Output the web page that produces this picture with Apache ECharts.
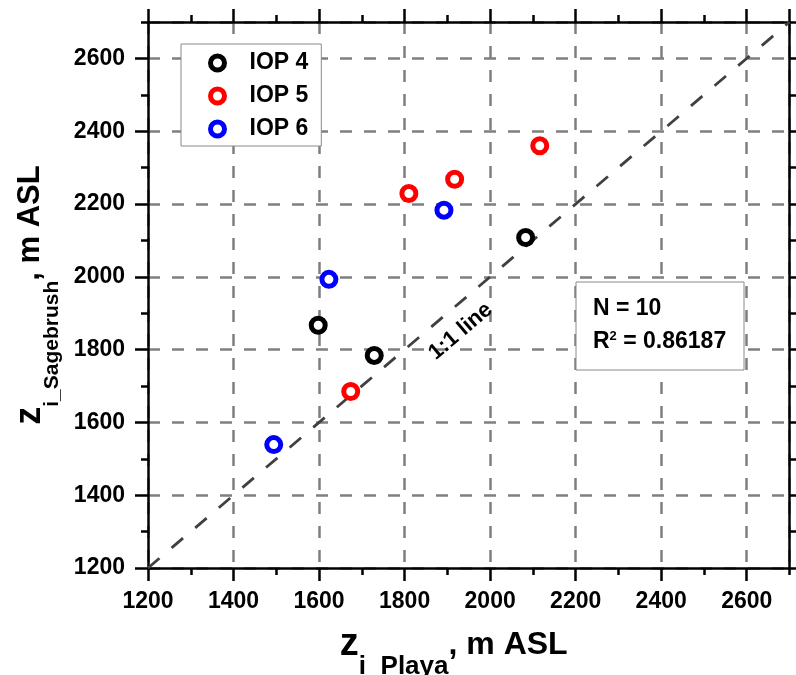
<!DOCTYPE html>
<html>
<head>
<meta charset="utf-8">
<script src="https://cdn.jsdelivr.net/npm/echarts@6/dist/echarts.min.js"></script>
<style>
  html, body { margin: 0; padding: 0; background: #fff; }
  #chart { width: 796px; height: 675px; }
</style>
</head>
<body>
<div id="chart"></div>
<script>
// Mixed-layer height: playa site (x) vs. sagebrush site (y), m ASL
const seriesNames = ['IOP 4', 'IOP 5', 'IOP 6'];
const seriesColors = ['#000000', '#ff0000', '#0000ff'];

const iop4Playa = [1598, 1729, 2083];
const iop4Sage  = [1867, 1784, 2108];
const iop5Playa = [1674, 1810, 1917, 2116];
const iop5Sage  = [1685, 2229, 2268, 2360];
const iop6Playa = [1494, 1623, 1892];
const iop6Sage  = [1539, 1993, 2183];

const axisMin = 1200;
const axisMax = 2700;
const majorStep = 200;
const minorStep = 100;

const oneToOneLine = [1200, 2700];
const oneToOneLabel = '1:1 line';
const oneToOneLabelAt = [1931, 1850];

const sampleCount = 10;
const rSquared = '0.86187';

const FONT = '"Liberation Sans", Arial, Helvetica, sans-serif';

function pairs(xs, ys) { return xs.map((x, i) => [x, ys[i]]); }

const scatterData = [
  pairs(iop4Playa, iop4Sage),
  pairs(iop5Playa, iop5Sage),
  pairs(iop6Playa, iop6Sage)
];

// fixed plot rectangle; axis names may sit outside it
const gridBox = { left: 148, right: 6.5, top: 22, bottom: 107, containLabel: false, outerBoundsMode: 'none' };

const axisLineStyle = { color: '#000', width: 2.5 };
const gridLineStyle = { color: '#7f7f7f', width: 2.5, type: [12, 12] };

function majorAxis(extra) {
  return Object.assign({
    type: 'value',
    gridIndex: 0,
    min: axisMin,
    max: axisMax,
    interval: majorStep,
    axisLine: { show: true, onZero: false, lineStyle: axisLineStyle },
    axisTick: { show: true, inside: false, length: 13, lineStyle: { color: '#000', width: 2.5 } },
    axisLabel: { show: false },
    splitLine: { show: false }
  }, extra);
}

function minorAxis(extra) {
  return Object.assign({
    type: 'value',
    gridIndex: 1,
    min: axisMin,
    max: axisMax,
    interval: minorStep,
    axisLine: { show: false, onZero: false },
    axisTick: { show: true, inside: false, length: 7, lineStyle: { color: '#000', width: 2.5 } },
    axisLabel: { show: false },
    splitLine: { show: false }
  }, extra);
}

const tickLabel = {
  show: true,
  fontFamily: FONT,
  fontSize: 23,
  fontWeight: 'bold',
  color: '#000',
  showMaxLabel: false,
  formatter: v => String(v)
};

const xTitleRich = {
  z:   { fontFamily: FONT, fontWeight: 'bold', fontSize: 38, lineHeight: 40, verticalAlign: 'top', color: '#000' },
  sub: { fontFamily: FONT, fontWeight: 'bold', fontSize: 26, lineHeight: 26, verticalAlign: 'top', color: '#000', padding: [28, 0, 0, 0] },
  m:   { fontFamily: FONT, fontWeight: 'bold', fontSize: 32, lineHeight: 40, verticalAlign: 'top', color: '#000', padding: [3, 0, 0, 0] }
};
const yTitleRich = {
  z:   { fontFamily: FONT, fontWeight: 'bold', fontSize: 36, lineHeight: 40, verticalAlign: 'top', color: '#000' },
  sub: { fontFamily: FONT, fontWeight: 'bold', fontSize: 21, lineHeight: 22, verticalAlign: 'top', color: '#000', padding: [30, 0, 0, 0] },
  m:   { fontFamily: FONT, fontWeight: 'bold', fontSize: 31, lineHeight: 40, verticalAlign: 'top', color: '#000', padding: [3, 0, 0, 0] }
};

const chart = echarts.init(document.getElementById('chart'), null, { renderer: 'canvas' });

const option = {
  animation: false,
  backgroundColor: '#fff',
  grid: [Object.assign({}, gridBox), Object.assign({}, gridBox)],
  xAxis: [
    majorAxis({
      position: 'bottom',
      axisLabel: Object.assign({ margin: 22 }, tickLabel),
      splitLine: { show: true, lineStyle: gridLineStyle },
      name: '{z|z}{sub|i_Playa}{m|, m ASL}',
      nameLocation: 'middle',
      nameGap: 58,
      nameTextStyle: { padding: [0, 30, 0, 0], rich: xTitleRich }
    }),
    majorAxis({ position: 'top' }),
    minorAxis({ position: 'bottom' }),
    minorAxis({ position: 'top' })
  ],
  yAxis: [
    majorAxis({
      position: 'left',
      axisLabel: Object.assign({ margin: 23 }, tickLabel),
      splitLine: { show: true, lineStyle: gridLineStyle },
      name: '{z|z}{sub|i_Sagebrush}{m|, m ASL}',
      nameLocation: 'middle',
      nameGap: 96,
      nameTextStyle: { rich: yTitleRich }
    }),
    majorAxis({ position: 'right' }),
    minorAxis({ position: 'left' }),
    minorAxis({ position: 'right' })
  ],
  legend: {
    data: seriesNames,
    orient: 'vertical',
    left: 181,
    top: 44,
    padding: [7, 13, 5, 27],
    itemWidth: 14,
    itemHeight: 14,
    itemGap: 9,
    backgroundColor: '#fff',
    borderColor: '#8a8a8a',
    borderWidth: 1,
    selectedMode: false,
    itemStyle: { borderWidth: 5, opacity: 1 },
    textStyle: {
      fontFamily: FONT, fontSize: 23, fontWeight: 'bold', color: '#000',
      lineHeight: 24, padding: [0, 0, 0, 20]
    }
  },
  series: [
    {
      type: 'line',
      name: oneToOneLabel,
      xAxisIndex: 0,
      yAxisIndex: 0,
      data: [[oneToOneLine[0], oneToOneLine[0]], [oneToOneLine[1], oneToOneLine[1]]],
      symbol: 'none',
      silent: true,
      z: 3,
      lineStyle: { color: '#404040', width: 2.8, type: [15, 16] }
    }
  ].concat(seriesNames.map((name, i) => ({
    type: 'scatter',
    name: name,
    xAxisIndex: 0,
    yAxisIndex: 0,
    data: scatterData[i],
    symbol: 'circle',
    symbolSize: 14,
    clip: false,
    z: 6,
    itemStyle: { color: '#fff', borderColor: seriesColors[i], borderWidth: 5, opacity: 1 }
  })))
};

chart.setOption(option);

// Rotated label along the 1:1 line, plus the statistics box
const p0 = chart.convertToPixel({ gridIndex: 0 }, [oneToOneLine[0], oneToOneLine[0]]);
const p1 = chart.convertToPixel({ gridIndex: 0 }, [oneToOneLine[1], oneToOneLine[1]]);
const angle = Math.atan2(p0[1] - p1[1], p1[0] - p0[0]);
const labelPos = chart.convertToPixel({ gridIndex: 0 }, oneToOneLabelAt);

chart.setOption({
  graphic: [
    {
      type: 'text',
      x: labelPos[0],
      y: labelPos[1],
      rotation: angle,
      z: 7,
      style: {
        text: oneToOneLabel,
        font: 'bold 22px ' + FONT,
        fill: '#000',
        align: 'center',
        verticalAlign: 'middle'
      }
    },
    {
      type: 'rect',
      x: 576,
      y: 282,
      z: 7,
      shape: { width: 168, height: 88 },
      style: { fill: '#fff', stroke: '#8a8a8a', lineWidth: 1 }
    },
    {
      type: 'text',
      x: 593,
      y: 309,
      z: 8,
      style: {
        text: 'N = ' + sampleCount,
        font: 'bold 23px ' + FONT,
        fill: '#000',
        align: 'left',
        verticalAlign: 'middle'
      }
    },
    {
      type: 'text',
      x: 593,
      y: 342,
      z: 8,
      style: {
        text: '{r|R}{s|2}{r| = ' + rSquared + '}',
        align: 'left',
        verticalAlign: 'middle',
        rich: {
          r: { fontFamily: FONT, fontWeight: 'bold', fontSize: 23, lineHeight: 24, fill: '#000', verticalAlign: 'middle' },
          s: { fontFamily: FONT, fontWeight: 'bold', fontSize: 13, lineHeight: 18, fill: '#000', verticalAlign: 'top' }
        }
      }
    }
  ]
});
</script>
</body>
</html>
